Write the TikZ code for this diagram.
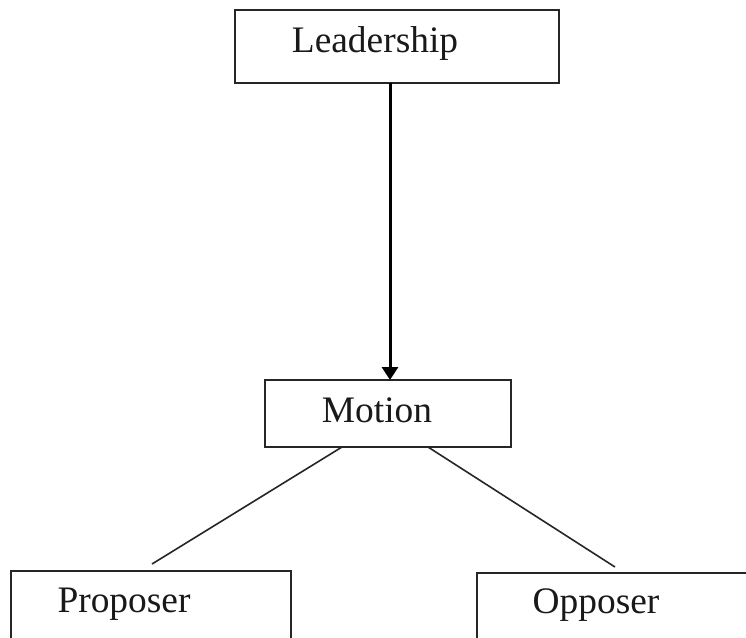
\documentclass[tikz,border=0pt]{standalone}
\usepackage{fontspec}
\setmainfont{Liberation Serif}
\usetikzlibrary{arrows.meta}
\definecolor{boxline}{HTML}{262626}
\tikzset{
  box/.style={draw=boxline, line width=2pt, minimum width=#1, inner sep=0pt, outer sep=0pt},
  lbl/.style={anchor=base, inner sep=0pt, font=\fontsize{37.4}{44}\selectfont, text=black!90},
  conn/.style={draw=boxline, line width=1.6pt},
  mainarrow/.style={draw=black, line width=3pt, -{Triangle[length=13pt,width=16pt]}}
}
\begin{document}
\begin{tikzpicture}[x=1pt,y=-1pt]
\useasboundingbox (0,0) rectangle (746,637);
\clip (0,0) rectangle (746,637);
\fill[white] (0,0) rectangle (746,637);
% boxes
\node[box=324pt, minimum height=73pt] (lead) at (397,46.5) {};
\node[box=246pt, minimum height=67pt] (motion) at (388,413.5) {};
\node[box=280pt, minimum height=70pt] (prop) at (151,606) {};
\node[box=293pt, minimum height=70pt] (opp) at (623.5,608) {};
% texts
\node[lbl] (tlead) at (375,52) {Leadership};
\node[lbl] (tmotion) at (377,422) {Motion};
\node[lbl] (tprop) at (124,612) {Proposer};
\node[lbl] (topp) at (596,613) {Opposer};
% connectors
\coordinate (ax) at (390,0);
\coordinate (pl) at (152,564);
\coordinate (pr) at (615,567);
\draw[mainarrow] (lead.south -| ax) -- (motion.north -| ax);
\draw[conn] ([xshift=-46pt]motion.south) -- (pl);
\draw[conn] ([xshift=40pt]motion.south) -- (pr);
\end{tikzpicture}
\end{document}
